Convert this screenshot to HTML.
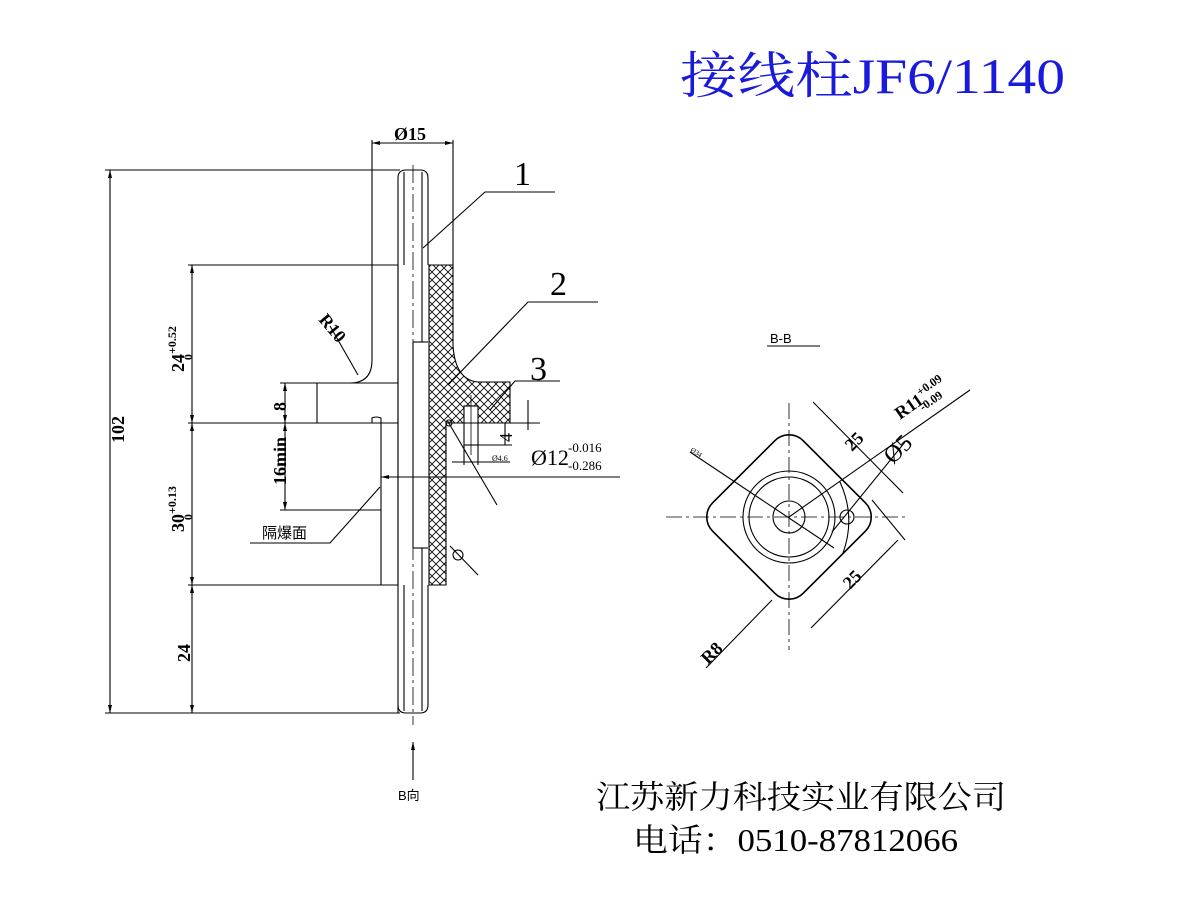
<!DOCTYPE html>
<html><head><meta charset="utf-8"><style>
html,body{margin:0;padding:0;background:#fff;}
svg{display:block;}
</style></head><body>
<svg width="1200" height="900" viewBox="0 0 1200 900" xmlns="http://www.w3.org/2000/svg">
<defs>
<pattern id="hx" width="8" height="8" patternUnits="userSpaceOnUse">
<path d="M0,0 L8,8 M8,0 L0,8" stroke="#000" stroke-width="0.8"/>
</pattern>
</defs>
<rect width="1200" height="900" fill="#fff"/>
<text x="680" y="93" font-family="'Liberation Serif','Noto Serif CJK SC',serif" font-size="50" fill="#1a1adc" textLength="385" lengthAdjust="spacingAndGlyphs">接线柱JF6/1140</text>

<g stroke="#000" stroke-width="1.1" fill="none">
<path d="M398,713 L398,178 Q398,170 406,170 L420,170 Q428,170 428,178 L428,265"/>
<path d="M428,585 L428,705 Q428,713 420,713 L406,713 Q398,713 398,705"/>
<line x1="404" y1="172" x2="404" y2="265"/><line x1="422" y1="172" x2="422" y2="265"/>
<line x1="404" y1="585" x2="404" y2="711"/><line x1="422" y1="585" x2="422" y2="711"/>
<line x1="413" y1="342" x2="413" y2="548"/><line x1="413" y1="342" x2="428" y2="342"/><line x1="413" y1="548" x2="428" y2="548"/>
<line x1="422" y1="265" x2="422" y2="342"/><line x1="422" y1="548" x2="422" y2="585"/>
<line x1="398" y1="265" x2="398" y2="585"/>
<line x1="413" y1="165" x2="413" y2="725" stroke-dasharray="18,4,3,4" stroke-width="0.8"/>
<path d="M429,265 L453,265 L453,345 Q455,380 478,382 L510,382 L510,423 L446,423 L446,585 L429,585 Z" fill="url(#hx)"/>
<rect x="464" y="406" width="14" height="39" fill="#fff"/>
<line x1="471" y1="395" x2="471" y2="455" stroke-width="0.8"/>
<line x1="372" y1="140" x2="372" y2="360"/>
<path d="M372,360 Q372,383 350,383"/>
<line x1="350" y1="383" x2="280" y2="383"/>
<line x1="350" y1="383" x2="398" y2="383"/>
<line x1="317" y1="383" x2="317" y2="423"/>
<line x1="188" y1="423" x2="398" y2="423"/>
<path d="M372,423 L372,418 Q376,416 381,418 L381,585"/>
<line x1="280" y1="510" x2="381" y2="510"/>
<line x1="188" y1="585" x2="398" y2="585"/>
<line x1="188" y1="265" x2="398" y2="265"/>
<line x1="105" y1="170" x2="400" y2="170"/>
<line x1="105" y1="713" x2="400" y2="713"/>
<line x1="453" y1="140" x2="453" y2="265"/>
<line x1="110" y1="170" x2="110" y2="713"/>
<line x1="192" y1="265" x2="192" y2="713"/>
<line x1="285" y1="383" x2="285" y2="510"/>
<line x1="372" y1="143" x2="453" y2="143"/>
<line x1="381" y1="477" x2="620" y2="477"/>
<line x1="446" y1="423" x2="540" y2="423"/>
<line x1="528" y1="400" x2="528" y2="430"/>
<line x1="478" y1="445" x2="512" y2="445"/>
<line x1="505" y1="423" x2="505" y2="445"/>
<line x1="452" y1="462" x2="510" y2="462"/>
<line x1="464" y1="445" x2="464" y2="465"/><line x1="478" y1="445" x2="478" y2="465"/>
<line x1="447" y1="420" x2="497" y2="505"/>
<circle cx="449" cy="423" r="3"/>
<line x1="450" y1="546" x2="478" y2="575"/>
<circle cx="458" cy="555" r="5"/>
<polyline points="423,248 485,192 555,192"/>
<polyline points="448,385 528,302 598,302"/>
<polyline points="490,410 515,381 560,381"/>
<polyline points="380,487 330,543 250,543"/>
<polyline points="330,326 358,375"/>
<line x1="413" y1="742" x2="413" y2="780"/>
</g>
<g fill="#000">
<polygon points="110,170 108,178 112,178"/><polygon points="110,713 108,705 112,705"/>
<polygon points="192,265 190,273 194,273"/><polygon points="192,423 190,415 194,415"/><polygon points="192,423 190,431 194,431"/>
<polygon points="192,585 190,577 194,577"/><polygon points="192,585 190,593 194,593"/><polygon points="192,713 190,705 194,705"/>
<polygon points="285,383 283,391 287,391"/><polygon points="285,423 283,415 287,415"/><polygon points="285,423 283,431 287,431"/><polygon points="285,510 283,502 287,502"/>
<polygon points="372,143 380,141 380,145"/><polygon points="453,143 445,141 445,145"/>
<polygon points="381,477 389,475 389,479"/>
<polygon points="413,742 411,750 415,750"/>
</g>
<g font-family="'Liberation Serif',serif" fill="#000">
<text x="514" y="185" font-size="34">1</text>
<text x="550" y="295" font-size="34">2</text>
<text x="530" y="380" font-size="34">3</text>
<text x="394" y="140" font-size="18" font-weight="bold">Ø15</text>
<text transform="translate(124,443) rotate(-90)" font-size="18" font-weight="bold">102</text>
<text transform="translate(184,372) rotate(-90)" font-size="18" font-weight="bold">24<tspan font-size="12" dy="-8">+0.52</tspan><tspan font-size="12" dx="-34" dy="16">0</tspan></text>
<text transform="translate(184,532) rotate(-90)" font-size="18" font-weight="bold">30<tspan font-size="12" dy="-8">+0.13</tspan><tspan font-size="12" dx="-34" dy="16">0</tspan></text>
<text transform="translate(190,662) rotate(-90)" font-size="18" font-weight="bold">24</text>
<text transform="translate(286,411) rotate(-90)" font-size="18" font-weight="bold">8</text>
<text transform="translate(286,485) rotate(-90)" font-size="18" font-weight="bold">16min</text>
<text transform="translate(318,320) rotate(50)" font-size="18" font-weight="bold">R10</text>
<text transform="translate(512,442) rotate(-90)" font-size="18">4</text>
<text x="531" y="465" font-size="22">Ø12</text>
<text x="568" y="452" font-size="13">-0.016</text>
<text x="568" y="470" font-size="13">-0.286</text>
<text x="492" y="461" font-size="8">Ø4.6</text>
<text x="262" y="538" font-size="15" font-family="'Liberation Sans','Noto Sans CJK SC',sans-serif">隔爆面</text>
<text x="398" y="800" font-size="13" font-family="'Liberation Sans','Noto Sans CJK SC',sans-serif">B向</text>
<text x="596" y="808" font-size="32" font-family="'Liberation Serif','Noto Serif CJK SC',serif" textLength="410" lengthAdjust="spacingAndGlyphs">江苏新力科技实业有限公司</text>
<text x="633" y="851" font-size="32" font-family="'Liberation Serif','Noto Serif CJK SC',serif" textLength="325" lengthAdjust="spacingAndGlyphs">电话：0510-87812066</text>
</g>

<g stroke="#000" stroke-width="1.1" fill="none">
<line x1="767" y1="346" x2="820" y2="346"/>
<rect x="-64" y="-64" width="128" height="128" rx="20" transform="translate(789,517) rotate(45)" stroke-width="1.6"/>
<circle cx="789" cy="517" r="46"/><circle cx="789" cy="517" r="40"/><circle cx="789" cy="517" r="16"/>
<circle cx="847" cy="517" r="7"/>
<path d="M840,482 Q856,517 843,553"/>
<g stroke-dasharray="16,4,3,4" stroke-width="0.8">
<line x1="666" y1="517" x2="905" y2="517"/><line x1="789" y1="403" x2="789" y2="650"/>
</g>
<line x1="690" y1="452" x2="834" y2="548"/>
<line x1="789" y1="517" x2="970" y2="390"/>
<line x1="832" y1="532" x2="905" y2="442"/>
<line x1="813" y1="402" x2="903" y2="493"/>
<line x1="872" y1="500" x2="905" y2="540"/>
<line x1="898" y1="540" x2="811" y2="628"/>
<line x1="706" y1="668" x2="772" y2="600"/>
</g>
<g font-family="'Liberation Serif',serif" fill="#000">
<text x="770" y="343" font-size="13" font-family="'Liberation Sans',sans-serif">B-B</text>
<text transform="translate(852,452) rotate(-45)" font-size="18" font-weight="bold">25</text>
<text transform="translate(850,590) rotate(-45)" font-size="18" font-weight="bold">25</text>
<text transform="translate(893,465) rotate(-45)" font-size="24">Ø5</text>
<text transform="translate(900,420) rotate(-35)" font-size="18" font-weight="bold">R11<tspan font-size="12" dy="-8">+0.09</tspan><tspan font-size="12" dx="-34" dy="14">-0.09</tspan></text>
<text transform="translate(708,665) rotate(-45)" font-size="18" font-weight="bold">R8</text>
<text transform="translate(690,451) rotate(33)" font-size="7">Ø34</text>
</g>
</svg>
</body></html>
